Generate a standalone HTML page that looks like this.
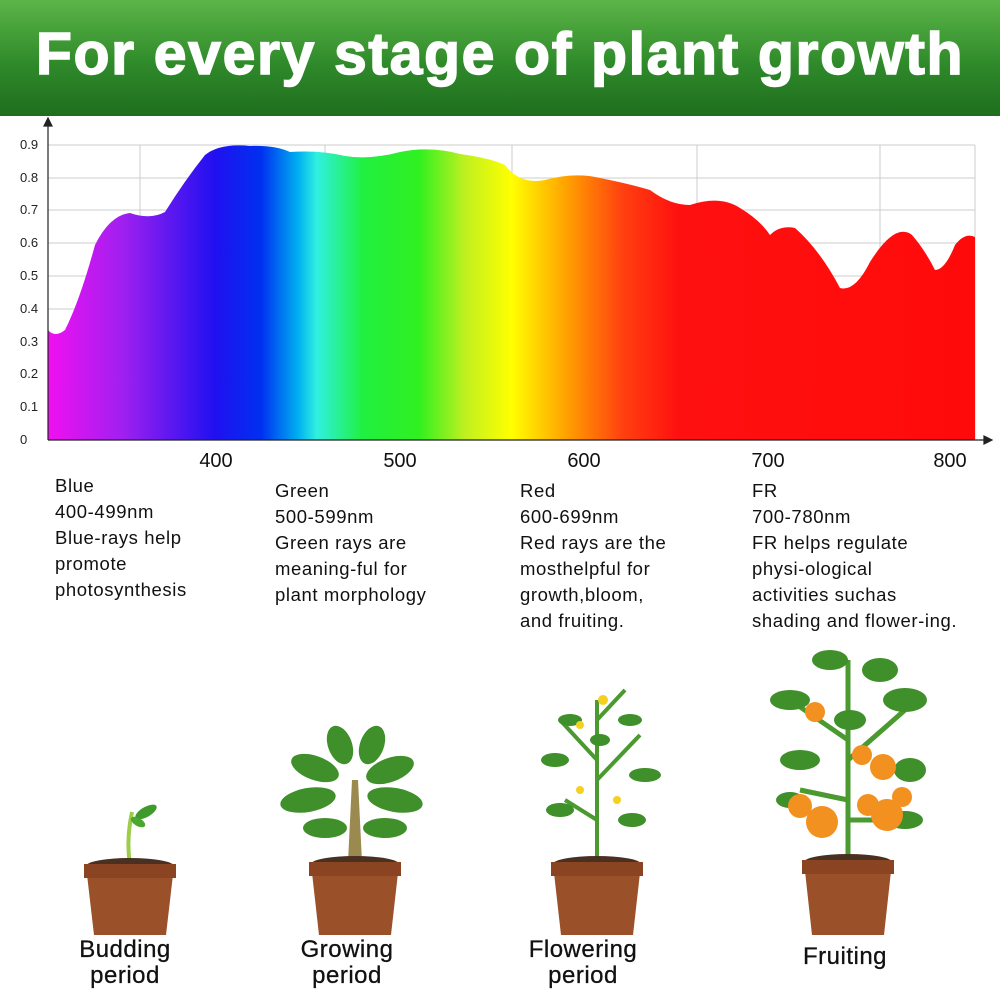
<!DOCTYPE html>
<html><head><meta charset="utf-8"><style>
html,body{margin:0;padding:0;background:#fff;}
body{width:1000px;height:993px;position:relative;overflow:hidden;font-family:"Liberation Sans",sans-serif;}
.hdr{position:absolute;left:0;top:0;width:1000px;height:116px;background:linear-gradient(#5cb548,#2f8a2a 55%,#1f6e1e);}
.hdr div{position:absolute;left:0;width:1000px;top:20px;text-align:center;color:#fff;font-weight:bold;font-size:59px;letter-spacing:1.6px;-webkit-text-stroke:1.5px #fff;}
.col{position:absolute;font-size:18.5px;line-height:26px;color:#111;letter-spacing:0.6px;}
.lab{position:absolute;font-size:24px;line-height:26px;text-align:center;color:#111;letter-spacing:0.5px;-webkit-text-stroke:0.3px #111;}
</style></head><body>
<div class="hdr"><div>For every stage of plant growth</div></div>
<svg width="1000" height="993" style="position:absolute;left:0;top:0">
<defs>
<linearGradient id="sp" x1="48" x2="975" gradientUnits="userSpaceOnUse">
<stop offset="0" stop-color="#f010f0"/><stop offset="0.08" stop-color="#a020f0"/>
<stop offset="0.18" stop-color="#2010f0"/><stop offset="0.23" stop-color="#0030f0"/>
<stop offset="0.27" stop-color="#00b0f0"/><stop offset="0.29" stop-color="#30f0e0"/>
<stop offset="0.34" stop-color="#20f040"/><stop offset="0.40" stop-color="#30f020"/>
<stop offset="0.45" stop-color="#c0f020"/><stop offset="0.50" stop-color="#ffff00"/>
<stop offset="0.56" stop-color="#ffa000"/><stop offset="0.62" stop-color="#ff4010"/>
<stop offset="0.68" stop-color="#ff1010"/><stop offset="1" stop-color="#ff0a0a"/>
</linearGradient>
</defs>
<g stroke="#ccc" stroke-width="1">
<line x1="48" y1="145" x2="975" y2="145"/><line x1="48" y1="178" x2="975" y2="178"/>
<line x1="48" y1="210" x2="975" y2="210"/><line x1="48" y1="243" x2="975" y2="243"/>
<line x1="48" y1="276" x2="975" y2="276"/><line x1="48" y1="309" x2="975" y2="309"/>
<line x1="48" y1="342" x2="975" y2="342"/><line x1="48" y1="374" x2="975" y2="374"/>
<line x1="48" y1="407" x2="975" y2="407"/>
<line x1="140" y1="145" x2="140" y2="440"/><line x1="325" y1="145" x2="325" y2="440"/>
<line x1="512" y1="145" x2="512" y2="440"/><line x1="697" y1="145" x2="697" y2="440"/>
<line x1="880" y1="145" x2="880" y2="440"/><line x1="975" y1="145" x2="975" y2="440"/>
</g>
<path fill="url(#sp)" d="M48,440 L48,330 Q55,338 65,330 Q80,300 95,245 Q110,215 130,213 Q150,220 165,212 Q185,180 205,155 Q220,143 250,146 Q275,145 290,152 Q320,150 345,156 Q370,160 400,152 Q430,146 460,154 Q490,158 505,165 Q520,185 545,180 Q575,172 600,178 Q630,184 650,190 Q670,205 690,205 Q720,195 740,208 Q760,220 770,235 Q780,225 795,228 Q820,250 840,288 Q855,292 870,262 Q895,222 912,235 Q925,250 935,270 Q945,270 955,245 Q965,232 975,237 L975,440 Z"/>
<g stroke="#222" stroke-width="1.2" fill="#222">
<line x1="48" y1="122" x2="48" y2="440"/><line x1="48" y1="440" x2="990" y2="440"/>
<path d="M44,126 L48,118 L52,126 Z"/><path d="M984,436 L992,440 L984,444 Z"/>
</g>
<g font-size="13" fill="#222" font-family="Liberation Sans">
<text x="20" y="149">0.9</text><text x="20" y="182">0.8</text><text x="20" y="214">0.7</text>
<text x="20" y="247">0.6</text><text x="20" y="280">0.5</text><text x="20" y="313">0.4</text>
<text x="20" y="346">0.3</text><text x="20" y="378">0.2</text><text x="20" y="411">0.1</text>
<text x="20" y="444">0</text>
</g>
<g font-size="20" fill="#111" font-family="Liberation Sans" text-anchor="middle">
<text x="216" y="467">400</text><text x="400" y="467">500</text><text x="584" y="467">600</text>
<text x="768" y="467">700</text><text x="950" y="467">800</text>
</g>
<g>
<path d="M130,865 Q126,840 132,812" stroke="#9ccc4a" stroke-width="4" fill="none"/>
<ellipse cx="146" cy="812" rx="12" ry="5" fill="#3e9a2a" transform="rotate(-30 146 812)"/>
<ellipse cx="138" cy="822" rx="8" ry="4" fill="#4aa830" transform="rotate(30 138 822)"/>
<ellipse cx="130" cy="866" rx="44" ry="8" fill="#4a3020"/>
<path d="M86,866 L174,866 L166,935 L94,935 Z" fill="#9a5028"/>
<rect x="84" y="864" width="92" height="14" fill="#8a4422"/>
<path d="M348,862 L352,780 L358,780 L362,862 Z" fill="#9a8a50"/>
<g fill="#3f8f2a">
<ellipse cx="308" cy="800" rx="28" ry="12" transform="rotate(-10 308 800)"/>
<ellipse cx="395" cy="800" rx="28" ry="12" transform="rotate(10 395 800)"/>
<ellipse cx="315" cy="768" rx="25" ry="12" transform="rotate(20 315 768)"/>
<ellipse cx="390" cy="770" rx="25" ry="12" transform="rotate(-20 390 770)"/>
<ellipse cx="340" cy="745" rx="12" ry="20" transform="rotate(-20 340 745)"/>
<ellipse cx="372" cy="745" rx="12" ry="20" transform="rotate(20 372 745)"/>
<ellipse cx="325" cy="828" rx="22" ry="10"/>
<ellipse cx="385" cy="828" rx="22" ry="10"/>
</g>
<ellipse cx="355" cy="864" rx="44" ry="8" fill="#4a3020"/>
<path d="M311,864 L399,864 L391,935 L319,935 Z" fill="#9a5028"/>
<rect x="309" y="862" width="92" height="14" fill="#8a4422"/>
<path d="M597,860 L597,700 M597,760 L560,720 M597,780 L640,735 M597,820 L565,800 M597,720 L625,690" stroke="#4a9a30" stroke-width="4" fill="none"/>
<g fill="#3f8f2a">
<ellipse cx="555" cy="760" rx="14" ry="7"/><ellipse cx="645" cy="775" rx="16" ry="7"/>
<ellipse cx="560" cy="810" rx="14" ry="7"/><ellipse cx="632" cy="820" rx="14" ry="7"/>
<ellipse cx="630" cy="720" rx="12" ry="6"/><ellipse cx="570" cy="720" rx="12" ry="6"/>
<ellipse cx="600" cy="740" rx="10" ry="6"/>
</g>
<g fill="#f4d020"><circle cx="603" cy="700" r="5"/><circle cx="580" cy="725" r="4"/><circle cx="617" cy="800" r="4"/><circle cx="580" cy="790" r="4"/></g>
<ellipse cx="597" cy="864" rx="44" ry="8" fill="#4a3020"/>
<path d="M553,864 L641,864 L633,935 L561,935 Z" fill="#9a5028"/>
<rect x="551" y="862" width="92" height="14" fill="#8a4422"/>
<path d="M848,858 L848,660 M848,740 L790,700 M848,760 L905,710 M848,800 L800,790 M848,820 L900,820" stroke="#4a9a30" stroke-width="5" fill="none"/>
<g fill="#3f8f2a">
<ellipse cx="790" cy="700" rx="20" ry="10"/><ellipse cx="905" cy="700" rx="22" ry="12"/>
<ellipse cx="830" cy="660" rx="18" ry="10"/><ellipse cx="880" cy="670" rx="18" ry="12"/>
<ellipse cx="800" cy="760" rx="20" ry="10"/><ellipse cx="910" cy="770" rx="16" ry="12"/>
<ellipse cx="790" cy="800" rx="14" ry="8"/><ellipse cx="905" cy="820" rx="18" ry="9"/>
<ellipse cx="850" cy="720" rx="16" ry="10"/>
</g>
<g fill="#f29020">
<circle cx="815" cy="712" r="10"/><circle cx="862" cy="755" r="10"/><circle cx="883" cy="767" r="13"/>
<circle cx="800" cy="806" r="12"/><circle cx="822" cy="822" r="16"/><circle cx="868" cy="805" r="11"/>
<circle cx="887" cy="815" r="16"/><circle cx="902" cy="797" r="10"/>
</g>
<ellipse cx="848" cy="862" rx="44" ry="8" fill="#4a3020"/>
<path d="M804,862 L892,862 L884,935 L812,935 Z" fill="#9a5028"/>
<rect x="802" y="860" width="92" height="14" fill="#8a4422"/>
</g>
</svg>
<div class="col" style="left:55px;top:473px">Blue<br>400-499nm<br>Blue-rays help<br>promote<br>photosynthesis</div>
<div class="col" style="left:275px;top:478px">Green<br>500-599nm<br>Green rays are<br>meaning-ful for<br>plant morphology</div>
<div class="col" style="left:520px;top:478px">Red<br>600-699nm<br>Red rays are the<br>mosthelpful for<br>growth,bloom,<br>and fruiting.</div>
<div class="col" style="left:752px;top:478px">FR<br>700-780nm<br>FR helps regulate<br>physi-ological<br>activities suchas<br>shading and flower-ing.</div>
<div class="lab" style="left:45px;top:937px;width:160px">Budding<br>period</div>
<div class="lab" style="left:267px;top:937px;width:160px">Growing<br>period</div>
<div class="lab" style="left:503px;top:937px;width:160px">Flowering<br>period</div>
<div class="lab" style="left:765px;top:944px;width:160px">Fruiting</div>
</body></html>
